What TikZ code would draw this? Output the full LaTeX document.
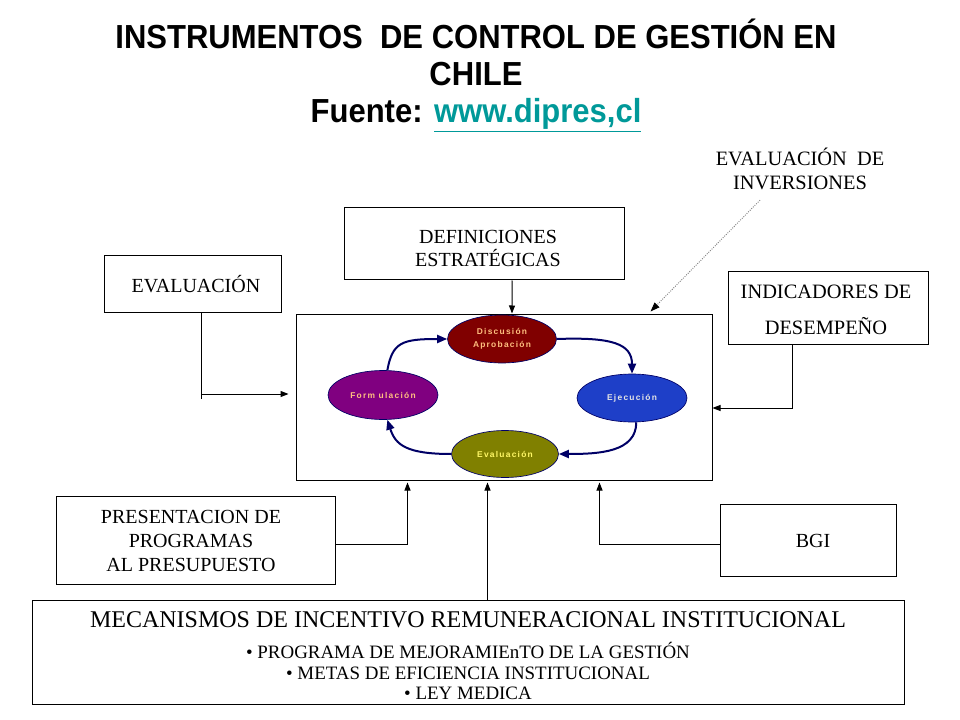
\documentclass[tikz,border=0pt]{standalone}
\usepackage{fontspec}
\setmainfont{Liberation Serif}
\newfontfamily\titlefont[FakeStretch=0.93]{Liberation Sans}
\newfontfamily\ellfont[LetterSpace=15]{Liberation Sans}
\usetikzlibrary{shapes.geometric,arrows.meta,calc}
\definecolor{navyc}{HTML}{000066}
\definecolor{linkc}{HTML}{009999}
\definecolor{discc}{HTML}{800000}
\definecolor{formc}{HTML}{800080}
\definecolor{ejecc}{HTML}{1E3FC8}
\definecolor{evalc}{HTML}{808000}
\definecolor{peach}{HTML}{FFC080}
\begin{document}
\begin{tikzpicture}[x=0.75pt,y=-0.75pt,
  box/.style={draw=black,line width=0.75pt,inner sep=0pt},
  txt/.style={align=center,inner sep=0pt,font=\fontsize{15}{18}\selectfont},
  ell/.style={ellipse,draw=navyc,line width=0.5pt,inner sep=0pt,align=center,
    font=\ellfont\bfseries\fontsize{6.3}{9.75}\selectfont},
  cyc/.style={draw=navyc,line width=1.5pt,-{Triangle[length=7.5pt,width=6pt]}},
  arr/.style={draw=black,line width=0.75pt,-{Triangle[length=6pt,width=4.5pt]}},
  invarr/.style={draw=gray,line width=0.7pt,densely dotted,-{Triangle[length=7pt,width=5pt,color=black]}}]
\useasboundingbox (0,0) rectangle (960,720);
\fill[white] (0,0) rectangle (960,720);

% title
\node[align=center,inner sep=0pt,font=\titlefont\bfseries\fontsize{25}{27.75}\selectfont] (title) at (476,76)
  {INSTRUMENTOS\ \ DE CONTROL DE GESTIÓN EN\\CHILE\\Fuente: \textcolor{linkc}{\underline{www.dipres,cl}}};

% boxes
\node[box,minimum width=177*0.75pt,minimum height=56*0.75pt] (eval) at (192.5,284) {};
\node[txt] (evalt) at (196,284) {EVALUACIÓN};

\node[box,minimum width=280*0.75pt,minimum height=72*0.75pt] (defs) at (484,244) {};
\node[txt,font=\fontsize{15}{17.25}\selectfont] (defst) at (488,248.5) {DEFINICIONES\\ESTRATÉGICAS};

\node[box,minimum width=416*0.75pt,minimum height=166*0.75pt] (central) at (504,397) {};

\node[box,minimum width=200*0.75pt,minimum height=72*0.75pt] (ind) at (828,308) {};
\node[txt,font=\fontsize{15.3}{27}\selectfont] (indt) at (826,310) {INDICADORES DE\\DESEMPEÑO};

\node[txt,font=\fontsize{15.3}{18}\selectfont] (inv) at (800,169) {EVALUACIÓN\ \ DE\\INVERSIONES};

\node[box,minimum width=279*0.75pt,minimum height=88*0.75pt] (pres) at (195.5,540) {};
\node[txt] (prest) at (191,541) {PRESENTACION DE\\PROGRAMAS\\AL PRESUPUESTO};

\node[box,minimum width=176*0.75pt,minimum height=72*0.75pt] (bgi) at (808,540) {};
\node[txt] (bgit) at (813,541) {BGI};

\node[box,minimum width=872*0.75pt,minimum height=104*0.75pt] (mec) at (468,652) {};
\node[txt,font=\fontsize{18}{20}\selectfont] (mect) at (468,620) {MECANISMOS DE INCENTIVO REMUNERACIONAL INSTITUCIONAL};
\node[txt,font=\fontsize{14.2}{15.4}\selectfont] (mecb) at (468,671)
  {• PROGRAMA DE MEJORAMIEnTO DE LA GESTIÓN\\• METAS DE EFICIENCIA INSTITUCIONAL\\• LEY MEDICA};

% ellipses
\node[ell,fill=discc,text=peach,minimum width=109*0.75pt,minimum height=48*0.75pt] (disc) at (502,339) {Discusión\\Aprobación};
\node[ell,fill=formc,text=peach,minimum width=110*0.75pt,minimum height=49*0.75pt] (form) at (383,395) {Form ulación};
\node[ell,fill=ejecc,text=white!90!black,minimum width=110*0.75pt,minimum height=48*0.75pt] (ejec) at (632,398) {Ejecución};
\node[ell,fill=evalc,text=yellow!60!white,minimum width=107*0.75pt,minimum height=47*0.75pt] (evalu) at (505,454) {Evaluación};

% cycle
\draw[cyc] (disc.east) .. controls +(55,-2) and +(0,-30) .. (ejec.north);
\draw[cyc] (ejec.-80) .. controls +(0,30) and +(40,0) .. (evalu.east);
\draw[cyc] (evalu.west) .. controls +(-45,0) and +(8,25) .. (form.-80);
\draw[cyc] (form.80) .. controls +(5,-28) and +(-45,0) .. (disc.west);

% connectors
\draw[arr] ($(defs.south west)!0.6!(defs.south east)$) -- ($(central.north west)!0.5!(central.north east)+(8,0)$);
\draw[arr] ($(eval.south west)!0.548!(eval.south east)$) |- ($(central.west)+(-7,-3)$);
\draw[line width=0.75pt] ($(eval.south west)!0.548!(eval.south east)$) -- ++(0,86);
\draw[arr] ($(ind.south west)!0.325!(ind.south east)$) |- ($(central.east)+(0,11)$);
\draw[arr] ($(pres.east)+(0,4)$) -| ($(central.south west)+(112,2)$);
\draw[arr] ($(bgi.west)+(0,4)$) -| ($(central.south west)+(304,2)$);
\draw[arr] ($(mec.north west)+(456,0)$) -- ($(central.south west)+(192,2)$);
\draw[invarr] ($(inv.south)+(-40,10)$) -- ($(central.north east)+(-62,-2)$);
\end{tikzpicture}
\end{document}
